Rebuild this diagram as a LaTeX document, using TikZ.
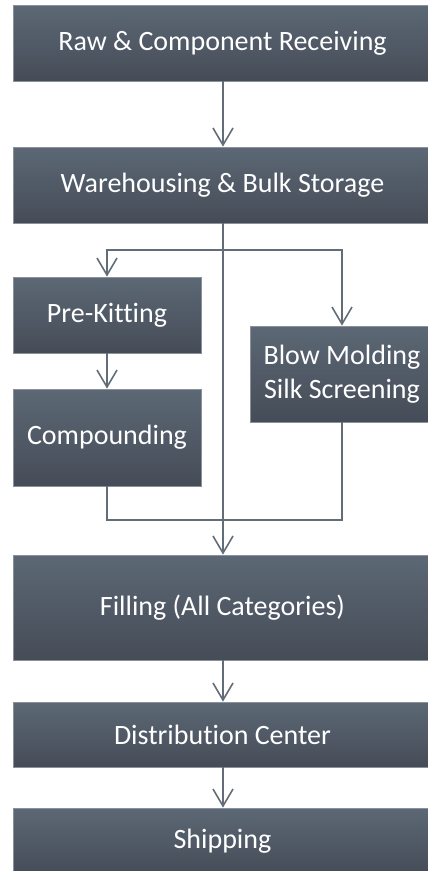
\documentclass[tikz,border=0pt]{standalone}
\usepackage{fontspec}
\setmainfont[Ligatures=NoCommon]{Carlito}
\usetikzlibrary{arrows.meta}
\definecolor{boxtop}{HTML}{5C6875}
\definecolor{boxbot}{HTML}{454C57}
\definecolor{boxedge}{HTML}{8A9199}
\definecolor{wire}{HTML}{636D78}
\tikzset{
  stage/.style={rectangle, inner sep=0pt, draw=boxedge, line width=0.8pt,
    top color=boxtop, bottom color=boxbot, text=white,
    font=\fontsize{28}{34}\selectfont, align=center},
  flow/.style={draw=wire, line width=2pt},
  tip/.style={-{Straight Barb[length=17pt,width=20pt,line width=1.6pt]}}
}
\begin{document}
\begin{tikzpicture}[x=1pt,y=-1pt]
\useasboundingbox (0,0) rectangle (428,871);
\clip (0,0) rectangle (428,871);

% main stages
\node[stage, minimum width=419pt, minimum height=76pt] (recv) at (222.5,43) {Raw \& Component Receiving};
\node[stage, minimum width=419pt, minimum height=76pt] (ware) at (222.5,185) {Warehousing \& Bulk Storage};
\node[stage, minimum width=188pt, minimum height=76pt] (kit) at (107,315) {Pre-Kitting};
\node[stage, minimum width=188pt, minimum height=97pt] (comp) at (107,437.5) {Compounding};
\node[stage, minimum width=184pt, minimum height=96pt] (blow) at (342,374) {Blow Molding\\Silk Screening};
\node[stage, minimum width=419pt, minimum height=105pt] (fill) at (222.5,607.5) {Filling (All Categories)};
\node[stage, minimum width=419pt, minimum height=65pt] (dist) at (222.5,734.5) {Distribution Center};
\node[stage, minimum width=419pt, minimum height=66pt] (ship) at (222.5,841) {Shipping};

% branch and merge points on the trunk
\coordinate (split) at (223,250);
\coordinate (merge) at (223,520);

% connectors
\draw[flow, tip] (recv.south -| split) -- (ware.north -| split);
\draw[flow, tip] (ware.south -| split) -- (fill.north -| split);
\draw[flow, tip] (split) -| (kit.north);
\draw[flow, tip] (split) -| (blow.north);
\draw[flow, tip] (kit.south) -- (comp.north);
\draw[flow] (comp.south) |- (merge);
\draw[flow] (blow.south) |- (merge);
\draw[flow, tip] (fill.south -| split) -- (dist.north -| split);
\draw[flow, tip] (dist.south -| split) -- (ship.north -| split);
\end{tikzpicture}
\end{document}
